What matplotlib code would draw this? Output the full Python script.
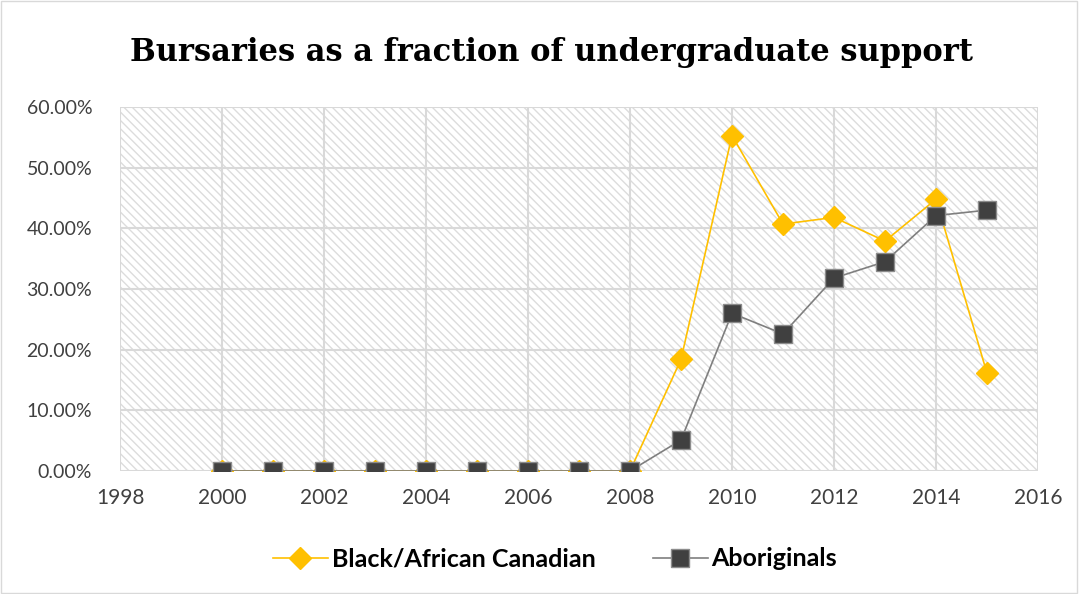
import matplotlib.pyplot as plt
from matplotlib.patches import Rectangle
from matplotlib.ticker import FuncFormatter

years = list(range(2000, 2016))
black = [0, 0, 0, 0, 0, 0, 0, 0, 0, 18.4, 55.3, 40.7, 41.8, 37.9, 44.8, 16.1]
aboriginal = [0, 0, 0, 0, 0, 0, 0, 0, 0, 5.1, 26.0, 22.6, 31.8, 34.5, 42.1, 43.0]

plt.rcParams['font.family'] = ['Lato', 'DejaVu Sans']
plt.rcParams['hatch.linewidth'] = 1.0

fig = plt.figure(figsize=(10.79, 5.94), dpi=100)
ax = fig.add_axes([120/1079, 1 - 471/594, (1038-120)/1079, (471-107)/594])

# hatched plot background
ax.add_patch(Rectangle((0, 0), 1, 1, transform=ax.transAxes, facecolor='white',
                       edgecolor='#dcdcdc', hatch='\\\\\\\\', linewidth=0, zorder=0))

ax.plot(years, black, color='#FFC000', lw=1.2, marker='D', ms=11,
        mec='#FFC000', mfc='#FFC000', label='Black/African Canadian', zorder=3)
ax.plot(years, aboriginal, color='#7f7f7f', lw=1.2, marker='s', ms=13,
        mec='#8c8c8c', mfc='#404040', label='Aboriginals', zorder=4)

ax.set_xlim(1998, 2016)
ax.set_ylim(0, 60)
ax.set_xticks(range(1998, 2017, 2))
ax.set_yticks(range(0, 61, 10))
ax.yaxis.set_major_formatter(FuncFormatter(lambda v, p: f'{v:.2f}%'))
ax.grid(True, color='#d9d9d9', lw=1.5)
ax.set_axisbelow(True)
for s in ax.spines.values():
    s.set_visible(False)
ax.tick_params(length=0, labelcolor='#404040')
ax.tick_params(axis='y', pad=20, labelsize=14)
ax.tick_params(axis='x', pad=12, labelsize=15)

fig.text(552/1079, 1 - 53/594, 'Bursaries as a fraction of undergraduate support',
         ha='center', va='center', fontsize=22, fontweight='bold',
         family=['DejaVu Serif'])

leg = fig.legend(loc='center', bbox_to_anchor=(555/1079, 1 - 559/594), ncol=2,
                 frameon=False, prop={'size': 18, 'weight': 'bold'},
                 handlelength=2.2, columnspacing=2.3, handletextpad=0.15)

fig.add_artist(Rectangle((0.001, 0.001), 0.997, 0.997, transform=fig.transFigure,
                         fill=False, edgecolor='#d9d9d9', lw=1))

fig.savefig('out.png', dpi=100)
